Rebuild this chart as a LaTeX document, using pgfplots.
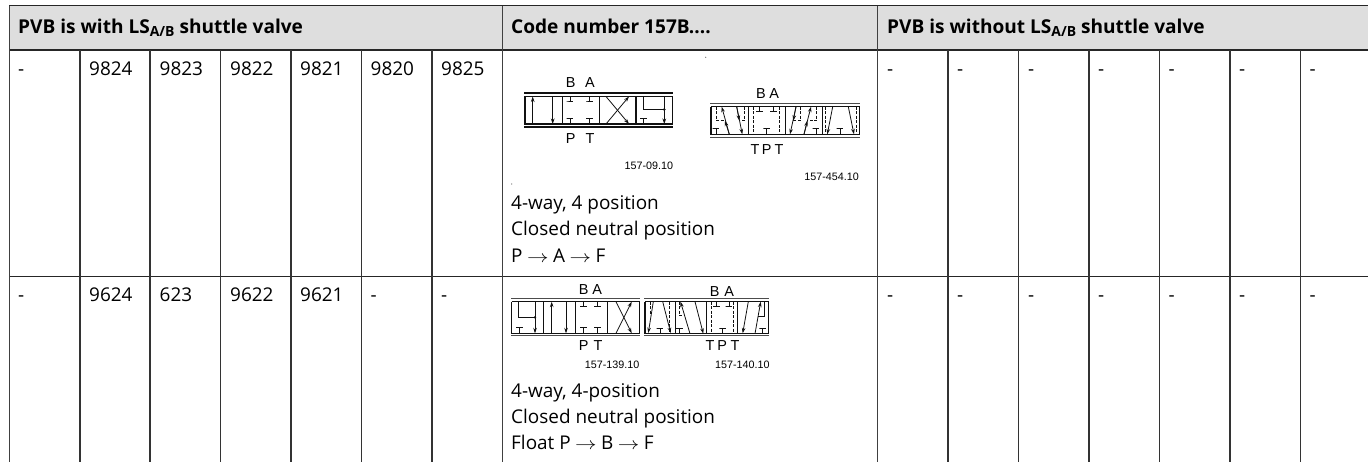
\documentclass[border=0pt]{standalone}
\usepackage{pgfplots}
\usepackage{fontspec}
\setmainfont{Open Sans}
\newfontfamily\ls{Liberation Sans}
\pgfplotsset{compat=1.18}
\usetikzlibrary{arrows.meta}
\definecolor{hdr}{HTML}{DEDEDE}
\definecolor{ink}{HTML}{111111}
\newcommand{\fs}[1]{\fontsize{#1}{#1}\selectfont}
\newcommand{\ra}{\hspace{4.5pt}\scalebox{1.25}[1]{$\rightarrow$}\hspace{4.5pt}}
\newcommand{\TL}[1]{\addplot[ink,line width=0.85pt,forget plot] coordinates {#1};}
\newcommand{\DL}[1]{\addplot[ink,line width=0.85pt,dash pattern=on 3pt off 1.5pt,forget plot] coordinates {#1};}
\newcommand{\BX}[1]{\addplot[ink,line width=1.05pt,forget plot] coordinates {#1};}
\newcommand{\AR}[4]{\addplot[ink,line width=0.8pt,-{Stealth[length=5.5pt,width=3.6pt]},forget plot] coordinates {(#1,#2)(#3,#4)};}
\newcommand{\Tt}[2]{\addplot[ink,line width=0.85pt,forget plot] table[row sep=crcr,x expr=\thisrow{a}+#1,y expr=\thisrow{b}+#2] {a b\\0 0\\0 4.5\\-3.3 4.5\\3.3 4.5\\};}
\newcommand{\Tb}[2]{\addplot[ink,line width=0.85pt,forget plot] table[row sep=crcr,x expr=\thisrow{a}+#1,y expr=\thisrow{b}+#2] {a b\\0 0\\0 -5.5\\-3.3 -5.5\\3.3 -5.5\\};}
\newcommand{\TX}[4]{\node[anchor=base west,inner sep=0pt,text=black] at (axis cs:#1,#2) {\fs{#3}#4};}
\newcommand{\TC}[4]{\node[anchor=base,inner sep=0pt,text=black] at (axis cs:#1,#2) {\ls\fs{#3}#4};}
\newcommand{\TR}[4]{\node[anchor=base east,inner sep=0pt,text=black] at (axis cs:#1,#2) {\ls\fs{#3}#4};}
\begin{document}
\begin{tikzpicture}
\begin{axis}[x=1bp,y=1bp,y dir=reverse,xmin=0,xmax=1368,ymin=0,ymax=462,hide axis,clip=true,unbounded coords=jump]
\path (axis cs:0,0) rectangle (axis cs:1368,462);
% header band
\addplot[draw=none,fill=hdr,forget plot] coordinates {(9.5,6)(1368,6)(1368,50)(9.5,50)} \closedcycle;
% horizontals
\addplot[black!85,line width=1.1pt,forget plot] coordinates {(9,5.8)(1368,5.8)(0,nan)(9,50)(1368,50)(0,nan)(9,276.3)(1368,276.3)};
% verticals header
\addplot[black!75,line width=1.1pt,forget plot] coordinates {(9.5,5.8)(9.5,462)(0,nan)(502.7,5.8)(502.7,462)(0,nan)(877.8,5.8)(877.8,462)};
% verticals body
\addplot[black!80,line width=1.1pt,forget plot] coordinates {(80,50)(80,462)(0,nan)(150,50)(150,462)(0,nan)(220.7,50)(220.7,462)(0,nan)(291,50)(291,462)(0,nan)(361.7,50)(361.7,462)(0,nan)(432,50)(432,462)(0,nan)(948,50)(948,462)(0,nan)(1018.7,50)(1018.7,462)(0,nan)(1089,50)(1089,462)(0,nan)(1159.7,50)(1159.7,462)(0,nan)(1230,50)(1230,462)(0,nan)(1300.3,50)(1300.3,462)};
% headers
\TX{18}{33.3}{19.15}{\bfseries PVB is with LS\raisebox{-3.5pt}{\fs{14}A/B} shuttle valve}
\TX{511}{33.3}{19.15}{\bfseries Code number 157B....}
\TX{887}{33.3}{19.15}{\bfseries PVB is without LS\raisebox{-3.5pt}{\fs{14}A/B} shuttle valve}
% row 1
\TX{18}{76}{19}{-}\TX{89}{76}{19}{9824}\TX{159.5}{76}{19}{9823}\TX{230}{76}{19}{9822}\TX{300}{76}{19}{9821}\TX{370.5}{76}{19}{9820}\TX{441}{76}{19}{9825}
\TX{887}{76}{19}{-}\TX{957}{76}{19}{-}\TX{1028}{76}{19}{-}\TX{1098}{76}{19}{-}\TX{1168.5}{76}{19}{-}\TX{1239}{76}{19}{-}\TX{1309.5}{76}{19}{-}
% row 2
\TX{18}{301.5}{19}{-}\TX{89}{301.5}{19}{9624}\TX{159.5}{301.5}{19}{623}\TX{230}{301.5}{19}{9622}\TX{300}{301.5}{19}{9621}\TX{370.5}{301.5}{19}{-}\TX{441}{301.5}{19}{-}
\TX{887}{301.5}{19}{-}\TX{957}{301.5}{19}{-}\TX{1028}{301.5}{19}{-}\TX{1098}{301.5}{19}{-}\TX{1168.5}{301.5}{19}{-}\TX{1239}{301.5}{19}{-}\TX{1309.5}{301.5}{19}{-}
% text
\TX{511}{209.3}{19}{4-way, 4 position}
\TX{511}{236}{19}{Closed neutral position}
\TX{511}{262.7}{19}{P\ra A\ra F}
\TX{511}{397.3}{19}{4-way, 4-position}
\TX{511}{423.3}{19}{Closed neutral position}
\TX{511}{449.3}{19}{Float P\ra B\ra F}
% diagram 1
\addplot[ink,line width=1.3pt,forget plot] coordinates {(524.3,93)(673.3,93)(0,nan)(524.3,127)(673.3,127)};
\BX{(525,96.5)(672.7,96.5)(672.7,124)(525,124)(525,96.5)(0,nan)(562.3,96.5)(562.3,124)(0,nan)(599.3,96.5)(599.3,124)(0,nan)(636,96.5)(636,124)}
\AR{532.7}{124}{532.7}{96.5}\AR{552.7}{96.5}{552.7}{124}
\Tt{570}{96.5}\Tt{589.3}{96.5}\Tb{570}{124}\Tb{589.3}{124}
\AR{606}{124}{629}{96.5}\AR{606}{96.5}{629}{124}
\TL{(643.3,96.5)(643.3,109.5)(664.3,109.5)}
\AR{664.3}{96.5}{664.3}{124}\Tb{643.3}{124}
\addplot[only marks,mark=*,mark size=1.1pt,ink,forget plot] coordinates {(664.3,109.5)};
\TC{570.7}{88}{14.5}{B}\TC{590}{88}{14.5}{A}\TC{570.7}{144}{14.5}{P}\TC{590}{144}{14.5}{T}
\TR{673.3}{169.5}{10.8}{157-09.10}
% diagram 2
\addplot[black!70,line width=1pt,forget plot] coordinates {(710,104)(859.5,104)(0,nan)(710,137.7)(859.5,137.7)};
\BX{(711,106.7)(859.3,106.7)(859.3,134.3)(711,134.3)(711,106.7)(0,nan)(748.3,106.7)(748.3,134.3)(0,nan)(785.3,106.7)(785.3,134.3)(0,nan)(822.3,106.7)(822.3,134.3)}
\AR{729.3}{134.3}{721.7}{106.7}\AR{729.3}{134.3}{725}{120.7}
\DL{(716.7,106.7)(716.7,120.7)(725,120.7)}\Tb{716}{134.3}
\AR{736.7}{106.7}{742.3}{134.3}\AR{736.7}{106.7}{739.3}{120.7}
\DL{(744.3,106.7)(744.3,120.7)(739.3,120.7)}
\DL{(753.3,106.7)(753.3,134.3)}\DL{(779,106.7)(779,134.3)}
\Tt{759.3}{106.7}\Tt{773.3}{106.7}\Tb{766.7}{134.3}
\AR{796}{106.7}{790}{134.3}\AR{796}{106.7}{793.3}{120.7}
\DL{(800,106.7)(800,120.7)(793.3,120.7)}
\AR{804}{134.3}{811}{106.7}\AR{804}{134.3}{807.3}{120.7}
\DL{(816.7,106.7)(816.7,120.7)(807.3,120.7)}\Tb{816}{134.3}
\AR{832.7}{106.7}{827.3}{134.3}\AR{848.3}{106.7}{854}{134.3}
\DL{(825.5,106.7)(825.5,134.3)}\DL{(856.5,106.7)(856.5,134.3)}\Tb{840}{134.3}
\TC{761}{98.5}{14.5}{B}\TC{774.3}{98.5}{14.5}{A}
\TC{755}{155}{14.5}{T}\TC{766.7}{155}{14.5}{P}\TC{779}{155}{14.5}{T}
\TR{859}{180.3}{10.8}{157-454.10}
% diagram 3
\addplot[black!70,line width=1pt,forget plot] coordinates {(511.3,299)(639.5,299)(0,nan)(511.3,336)(639.5,336)};
\BX{(511.7,301.7)(639.3,301.7)(639.3,333.3)(511.7,333.3)(511.7,301.7)(0,nan)(543.3,301.7)(543.3,333.3)(0,nan)(575.3,301.7)(575.3,333.3)(0,nan)(607.3,301.7)(607.3,333.3)}
\TL{(518.3,301.7)(518.3,317.3)(535,317.3)}
\AR{535}{301.7}{535}{333.3}\Tb{519.3}{333.3}
\addplot[only marks,mark=*,mark size=1pt,ink,forget plot] coordinates {(535,317.3)};
\AR{551.7}{333.3}{551.7}{301.7}\AR{566}{301.7}{566}{333.3}
\Tt{583.3}{301.7}\Tt{597.3}{301.7}\Tb{583.3}{333.3}\Tb{597.3}{333.3}
\AR{616}{301.7}{631.7}{333.3}\AR{616}{333.3}{631.7}{301.7}
\TC{583.7}{295}{14.5}{B}\TC{597.3}{295}{14.5}{A}
\TC{583.7}{350.5}{14.5}{P}\TC{598}{350.5}{14.5}{T}
\TR{639.5}{368.8}{10.8}{157-139.10}
% diagram 4
\addplot[black!70,line width=1pt,forget plot] coordinates {(644,299)(768.7,299)(0,nan)(644,336)(768.7,336)};
\BX{(645,301.7)(768.3,301.7)(768.3,333.7)(645,333.7)(645,301.7)(0,nan)(675.7,301.7)(675.7,333.7)(0,nan)(706.7,301.7)(706.7,333.7)(0,nan)(737.7,301.7)(737.7,333.7)}
\AR{653.3}{301.7}{648.3}{333}\AR{662.7}{301.7}{670.7}{333}
\DL{(650,301.7)(650,315)}\DL{(669.5,301.7)(669.5,333.7)}\Tb{660}{333.7}
\AR{690}{333.7}{680.5}{301.7}\AR{695}{301.7}{703.3}{333.7}
\DL{(679.3,301.7)(679.3,315)(685,315)}\Tb{679.3}{333.7}
\DL{(711.3,301.7)(711.3,333.7)}\DL{(733.5,301.7)(733.5,333.7)}
\Tt{716.5}{301.7}\Tt{729}{301.7}\Tb{722.7}{333.7}
\AR{748.3}{301.7}{742.7}{333.3}\AR{755}{333.7}{760.7}{301.7}
\TL{(764,301.7)(764,316)(758,316)}\Tb{762.7}{333.7}
\TC{714.7}{296.5}{14.5}{B}\TC{729.3}{296.5}{14.5}{A}
\TC{710}{351}{14.5}{T}\TC{722.3}{351}{14.5}{P}\TC{735}{351}{14.5}{T}
\TR{769.7}{368.8}{10.8}{157-140.10}
\addplot[only marks,mark=*,mark size=0.4pt,gray,forget plot] coordinates {(705.7,57.3)(511.7,184)};
\end{axis}
\end{tikzpicture}
\end{document}
